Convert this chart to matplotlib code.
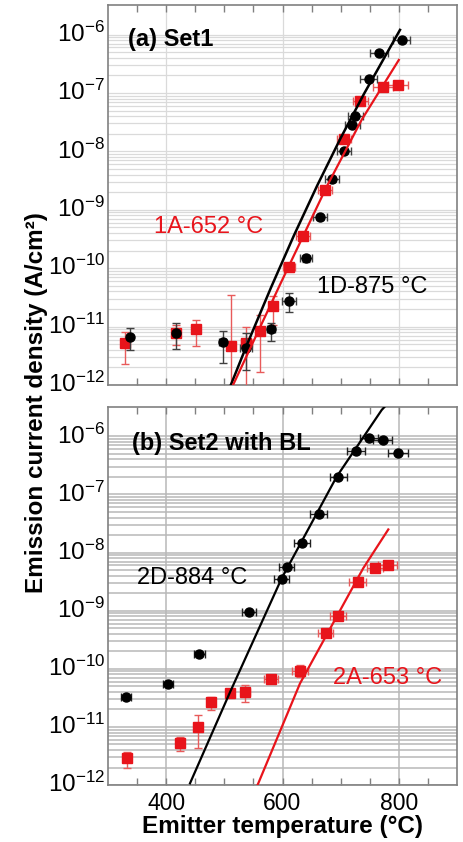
import numpy as np
import matplotlib
matplotlib.use("Agg")
import matplotlib.pyplot as plt
from matplotlib.ticker import FixedLocator, NullFormatter
from matplotlib.transforms import ScaledTranslation

plt.rcParams['font.family'] = ['Liberation Sans', 'DejaVu Sans']
plt.rcParams['mathtext.fontset'] = 'custom'
plt.rcParams['mathtext.rm'] = 'Liberation Sans'
plt.rcParams['mathtext.it'] = 'Liberation Sans:italic'
plt.rcParams['mathtext.bf'] = 'Liberation Sans:bold'

# ---------------- Panel (a) Set1 ----------------
T_1D = [337, 417, 497, 537, 580, 611, 640, 665, 685, 705, 720, 725, 748, 766, 805]
J_1D = [6.7e-12, 7.9e-12, 5.4e-12, 4.3e-12, 9.0e-12, 2.7e-11, 1.48e-10, 7.4e-10,
        3.3e-9, 1.02e-8, 2.8e-8, 4.1e-8, 1.71e-7, 4.9e-7, 7.9e-7]
lo_1D = [4.0e-12, 4.2e-12, 2.4e-12, 1.8e-12, 5.7e-12, 1.8e-11, 1.3e-10, 6.6e-10,
         3.0e-9, 9.3e-9, 2.6e-8, 3.8e-8, 1.6e-7, 4.6e-7, 7.4e-7]
hi_1D = [9.5e-12, 1.17e-11, 8.4e-12, 7.7e-12, 1.14e-11, 3.7e-11, 1.65e-10, 8.2e-10,
         3.6e-9, 1.1e-8, 3.0e-8, 4.4e-8, 1.8e-7, 5.2e-7, 8.4e-7]
xe_1D = [3, 3, 6, 10, 7, 12, 10, 12, 12, 12, 13, 13, 14, 15, 15]

T_1A = [330, 417, 451, 511, 538, 562, 583, 611, 636, 673, 705, 734, 773, 799]
J_1A = [5.2e-12, 7.9e-12, 9.0e-12, 4.7e-12, 5.3e-12, 8.4e-12, 2.25e-11, 1.04e-10,
        3.6e-10, 2.2e-9, 1.6e-8, 7.4e-8, 1.25e-7, 1.36e-7]
lo_1A = [2.3e-12, 4.9e-12, 4.65e-12, 5e-13, 5e-13, 1.7e-12, 1.06e-11, 9.2e-11,
         3.2e-10, 2.0e-9, 1.5e-8, 6.9e-8, 1.17e-7, 1.27e-7]
hi_1A = [8.2e-12, 1.05e-11, 1.3e-11, 3.5e-11, 1.0e-11, 1.6e-11, 3.3e-11, 1.16e-10,
         4.0e-10, 2.4e-9, 1.7e-8, 7.9e-8, 1.33e-7, 1.45e-7]
xe_1A = [3, 3, 3, 3, 10, 5, 5, 10, 12, 12, 12, 13, 17, 17]

# fitted curves
fitT_1D = [500, 540, 580, 620, 660, 700, 740, 780, 802]
fitJ_1D = [5.3e-13, 5.2e-12, 4.6e-11, 3.7e-10, 2.64e-9, 1.69e-8, 9.6e-8, 4.9e-7, 1.2e-6]
fitT_1A = [505, 515, 596, 676, 736, 800]
fitJ_1A = [6.0e-13, 1.0e-12, 5.3e-11, 2.49e-9, 3.45e-8, 3.67e-7]

# ---------------- Panel (b) Set2 with BL ----------------
T_2D = [331, 403, 457, 543, 599, 607, 633, 662, 696, 726, 749, 772, 798]
J_2D = [3.3e-11, 5.5e-11, 1.8e-10, 9.6e-10, 3.5e-9, 5.7e-9, 1.44e-8, 4.7e-8,
        2.0e-7, 5.5e-7, 9.5e-7, 8.7e-7, 5.2e-7]
xe_2D = [8, 9, 10, 12, 13, 13, 14, 15, 15, 15, 16, 17, 17]

T_2A = [333, 424, 454, 477, 510, 536, 581, 630, 674, 696, 729, 759, 781]
J_2A = [2.9e-12, 5.2e-12, 9.8e-12, 2.7e-11, 3.9e-11, 4.0e-11, 6.8e-11, 9.2e-11,
        4.1e-10, 8.1e-10, 3.1e-9, 5.4e-9, 6.0e-9]
lo_2A = [2.0e-12, 3.9e-12, 4.3e-12, 1.95e-11, 3.3e-11, 2.7e-11, 6.0e-11, 7.3e-11,
         3.6e-10, 7.3e-10, 2.9e-9, 5.0e-9, 5.6e-9]
hi_2A = [3.65e-12, 6.6e-12, 1.6e-11, 3.3e-11, 4.5e-11, 5.3e-11, 7.6e-11, 1.16e-10,
         4.6e-10, 9.0e-10, 3.4e-9, 5.8e-9, 6.4e-9]
xe_2A = [3, 3, 3, 3, 6, 8, 12, 13, 13, 14, 15, 14, 16]

fitT_2D = [441, 509.7, 598.6, 693.1, 770.5, 780]
fitJ_2D = [1.07e-12, 3.94e-11, 3.61e-9, 2.02e-7, 2.84e-6, 3.6e-6]
fitT_2A = [550, 558.4, 630.1, 738.9, 781.9]
fitJ_2A = [7.0e-13, 1.07e-12, 5.6e-11, 5.4e-9, 2.5e-8]

ytick_vals = [1e-12, 1e-11, 1e-10, 1e-9, 1e-8, 1e-7, 1e-6]
ytick_labels = [r'$10^{-12}$', r'$10^{-11}$', r'$10^{-10}$', r'$10^{-9}$',
                r'$10^{-8}$', r'$10^{-7}$', r'$10^{-6}$']
xtick_vals = [400, 600, 800]
xtick_labels = ['400', '600', '800']

RED = '#e8141b'
RED_ERR = '#e85a5a'
BLK_ERR = '#404040'

W, H = 463, 842
fig = plt.figure(figsize=(W / 100, H / 100), dpi=100)

def px_axes(left, top, right, bottom):
    return fig.add_axes([left / W, 1 - bottom / H, (right - left) / W, (bottom - top) / H])

axA = px_axes(108, 5, 457, 385)
axB = px_axes(108, 407, 457, 785)

minor_vals = [m * 10.0 ** e for e in range(-12, -6) for m in range(2, 10)]

def style(ax, gridcolor, gridlw, show_xlabels):
    ax.set_yscale('log')
    ax.set_xlim(300, 900)
    ax.set_ylim(1e-12, 3.2e-6)
    ax.yaxis.set_major_locator(FixedLocator(ytick_vals))
    ax.set_yticklabels(ytick_labels)
    ax.yaxis.set_minor_locator(FixedLocator(minor_vals))
    ax.yaxis.set_minor_formatter(NullFormatter())
    ax.xaxis.set_major_locator(FixedLocator(xtick_vals))
    ax.xaxis.set_minor_locator(FixedLocator(list(range(350, 900, 50))))
    if show_xlabels:
        ax.set_xticklabels(xtick_labels)
    else:
        ax.set_xticklabels([])
    ax.tick_params(axis='y', which='both', length=0, pad=2, labelsize=17.5)
    ax.tick_params(axis='x', which='both', direction='in', top=True, bottom=True,
                   length=5, width=1.0, color='#808080', labelsize=16.5, pad=5)
    ax.grid(True, axis='y', which='both', color=gridcolor, lw=gridlw, zorder=0)
    ax.grid(True, axis='x', which='major', color=gridcolor, lw=gridlw, zorder=0)
    ax.set_axisbelow(True)
    for s in ax.spines.values():
        s.set_color('#808080')
        s.set_linewidth(1.2)
    off = ScaledTranslation(0, 3 / 100, fig.dpi_scale_trans)
    for t in ax.yaxis.get_major_ticks():
        t.label1.set_transform(t.label1.get_transform() + off)

style(axA, '#dadada', 0.9, False)
style(axB, '#b8b8b8', 1.1, True)

def ebar(ax, T, J, lo, hi, xe, color, ecolor, marker, ms, z):
    J = np.array(J)
    yerr = None
    if lo is not None:
        yerr = [J - np.array(lo), np.array(hi) - J]
    ax.errorbar(T, J, yerr=yerr, xerr=xe, fmt=marker, color=color, ms=ms,
                ecolor=ecolor, elinewidth=1.0, capsize=3, capthick=1.0,
                zorder=z, clip_on=True)

# Panel a
ebar(axA, T_1A, J_1A, lo_1A, hi_1A, xe_1A, RED, RED_ERR, 's', 6.5, 3)
ebar(axA, T_1D, J_1D, lo_1D, hi_1D, xe_1D, 'black', BLK_ERR, 'o', 6.5, 4)
axA.plot(fitT_1D, fitJ_1D, color='black', lw=1.8, zorder=5)
axA.plot(fitT_1A, fitJ_1A, color=RED, lw=1.6, zorder=5)

# Panel b
ebar(axB, T_2A, J_2A, lo_2A, hi_2A, xe_2A, RED, RED_ERR, 's', 6.5, 3)
ebar(axB, T_2D, J_2D, None, None, xe_2D, 'black', '#202020', 'o', 6.5, 4)
axB.plot(fitT_2D, fitJ_2D, color='black', lw=1.6, zorder=5)
axB.plot(fitT_2A, fitJ_2A, color=RED, lw=1.6, zorder=5)

# Annotations
axA.text(334, 8.1e-7, '(a) Set1', fontsize=17, fontweight='bold', ha='left', va='center')
axA.text(379, 5.1e-10, '1A-652 °C', fontsize=17, color=RED, ha='left', va='center')
axA.text(659, 4.8e-11, '1D-875 °C', fontsize=17, color='black', ha='left', va='center')
axB.text(341, 7.4e-7, '(b) Set2 with BL', fontsize=17, fontweight='bold', ha='left', va='center')
axB.text(350, 3.66e-9, '2D-884 °C', fontsize=17, color='black', ha='left', va='center')
axB.text(687, 6.95e-11, '2A-653 °C', fontsize=17, color=RED, ha='left', va='center')

fig.text(37 / W, 1 - 403 / H, 'Emission current density (A/cm²)', rotation=90,
         fontsize=17.5, fontweight='bold', ha='center', va='center')
fig.text(282.5 / W, 1 - 827 / H, 'Emitter temperature (°C)',
         fontsize=17.5, fontweight='bold', ha='center', va='center')

fig.savefig('out.png', dpi=100)
